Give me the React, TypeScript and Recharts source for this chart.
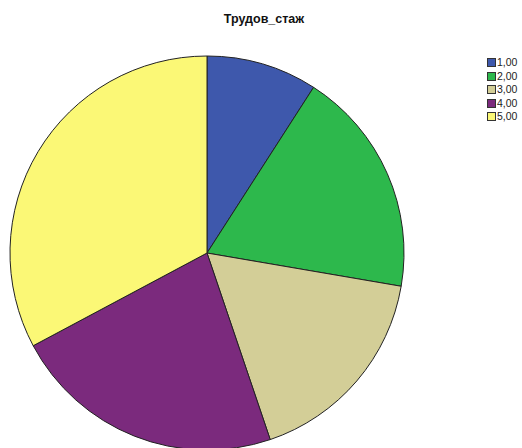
import React from "react";
import { PieChart, Pie, Cell, Legend } from "recharts";

const categories = ["1,00", "2,00", "3,00", "4,00", "5,00"];
const values = [9.1, 18.6, 17.1, 22.4, 32.8];
const colors = ["#3E58AC", "#2DB84C", "#D3CE97", "#7B2A7D", "#FBF876"];
const title = "Трудов_стаж";

const data = categories.map((name, i) => ({ name, value: values[i] }));

const renderLegend = () => (
  <div style={{ fontFamily: "'Liberation Sans', Arial, sans-serif", fontSize: 10.5, color: "#222" }}>
    {categories.map((c, i) => (
      <div key={c} style={{ display: "flex", alignItems: "center", height: 13.5 }}>
        <span style={{ display: "inline-block", boxSizing: "border-box", width: 9, height: 9, background: colors[i], border: "1px solid #333", marginRight: 1 }} />
        <span style={{ lineHeight: "11px", color: "#222" }}>{c}</span>
      </div>
    ))}
  </div>
);

export default function App() {
  return (
    <div style={{ position: "absolute", left: 0, top: 0, width: 522, height: 448, background: "#fff", overflow: "hidden" }}>
      <div style={{ position: "absolute", left: 0, width: 522, top: 12, textAlign: "center", paddingLeft: 3, fontFamily: "'Liberation Sans', Arial, sans-serif", fontWeight: "bold", fontSize: 12.5, color: "#111", zIndex: 2 }}>
        {title}
      </div>
      <PieChart width={522} height={460} margin={{ top: 0, right: 0, bottom: 0, left: 0 }}>
        <Pie
          data={data}
          dataKey="value"
          nameKey="name"
          cx={207}
          cy={253}
          outerRadius={197}
          innerRadius={0}
          startAngle={90}
          endAngle={-270}
          stroke="#222"
          strokeWidth={1}
          isAnimationActive={false}
        >
          {data.map((d, i) => (
            <Cell key={d.name} fill={colors[i]} />
          ))}
        </Pie>
        <Legend
          layout="vertical"
          align="right"
          verticalAlign="top"
          content={renderLegend}
          wrapperStyle={{ position: "absolute", left: 487, top: 56, width: 40 }}
        />
      </PieChart>
    </div>
  );
}
